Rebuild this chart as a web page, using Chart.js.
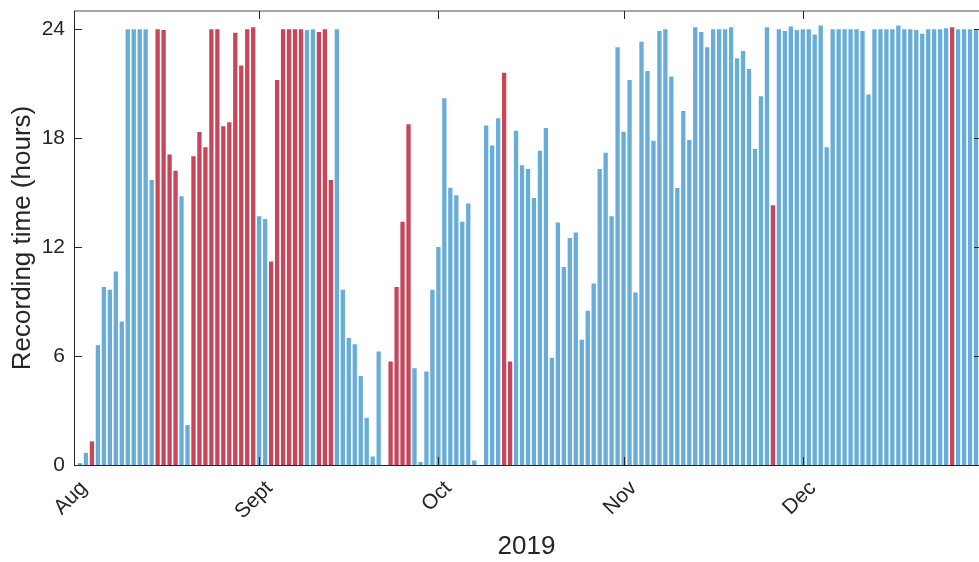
<!DOCTYPE html>
<html>
<head>
<meta charset="utf-8">
<script src="https://cdn.jsdelivr.net/npm/chart.js@4.4.0/dist/chart.umd.min.js"></script>
<style>
    html, body { margin: 0; padding: 0; background: #fff; overflow: hidden; }
    #wrap { width: 979px; height: 562px; }
</style>
</head>
<body>
<div id="wrap"><canvas id="chart"></canvas></div>
<script>
// day 0 = 1 Aug 2019
let monthLabels = ["Aug", "Sept", "Oct", "Nov", "Dec"];
let monthStarts = [0, 31, 61, 92, 122];
let yTicks = [0, 6, 12, 18, 24];

let augHours = [0, 0.1, 0.67, 1.3, 6.6, 9.8, 9.65, 10.66, 7.9, 24, 24, 24, 24, 15.7, 24, 23.95,
    17.1, 16.2, 14.8, 2.2, 17.0, 18.34, 17.5, 24, 24, 18.65, 18.87, 23.8, 22.0, 24, 24.1];
let sepHours = [13.7, 13.55, 11.2, 21.2, 24, 24, 24, 24, 23.95, 24, 23.85, 24, 15.7, 24, 9.65,
    7.0, 6.65, 4.9, 2.6, 0.47, 6.25, 0, 5.7, 9.8, 13.4, 18.76, 5.33, 0.17, 5.15, 9.65];
let octHours = [12.0, 20.2, 15.27, 14.85, 13.4, 14.4, 0.25, 0, 18.7, 17.6, 19.1, 21.6, 5.7, 18.4,
    16.5, 16.3, 14.7, 17.3, 18.56, 5.9, 13.35, 10.9, 12.5, 12.8, 6.9, 8.5, 10.0, 16.3, 17.2, 13.7, 23.0];
let novHours = [18.35, 21.2, 9.5, 23.3, 21.7, 17.86, 23.9, 24.0, 21.4, 15.25, 19.5, 17.9, 24.1, 23.85,
    23.0, 24.0, 24.0, 24.0, 24.1, 22.4, 22.8, 21.8, 17.4, 20.3, 24.1, 14.3, 24.0, 23.9, 24.15, 23.95];
let decHours = [24, 24, 23.7, 24.2, 17.5, 24, 24, 24, 24, 24, 23.9, 20.4, 24, 24, 24, 24, 24.2, 24,
    24, 23.95, 23.75, 24, 24, 24, 24.05, 24.1, 24, 24, 24, 24, 24];

// days drawn in red
let redDays = [3, 14, 15, 16, 17, 20, 21, 22, 23, 24, 25, 26, 27, 28, 29, 30, 33, 34, 35, 36, 37, 38,
    41, 42, 43, 53, 54, 55, 56, 72, 73, 117, 147];

let hours = [].concat(augHours, sepHours, octHours, novHours, decHours);
let points = hours.map((h, i) => ({ x: i, y: h }));
let colors = hours.map((h, i) => redDays.includes(i) ? "#c8465a" : "#68acd8");

let textColor = "#262626";
let fontFamily = "'Liberation Sans', Arial, Helvetica, sans-serif";

let axesBox = {
    id: "axesBox",
    afterDraw(chart) {
        let ctx = chart.ctx;
        let area = chart.chartArea;
        let xs = chart.scales.x;
        let ys = chart.scales.y;
        let rightX = xs.getPixelForValue(152);
        ctx.save();
        // top border
        ctx.strokeStyle = "#a6a6a6";
        ctx.lineWidth = 2;
        ctx.beginPath();
        ctx.moveTo(area.left, area.top);
        ctx.lineTo(area.right, area.top);
        ctx.stroke();
        // left and bottom axes
        ctx.strokeStyle = textColor;
        ctx.lineWidth = 1;
        ctx.beginPath();
        ctx.moveTo(area.left + 0.5, area.top);
        ctx.lineTo(area.left + 0.5, area.bottom + 0.5);
        ctx.lineTo(area.right, area.bottom + 0.5);
        ctx.stroke();
        // inward ticks
        ctx.beginPath();
        monthStarts.forEach(d => {
            let px = Math.round(xs.getPixelForValue(d)) + 0.5;
            ctx.moveTo(px, area.bottom);
            ctx.lineTo(px, area.bottom - 8);
            ctx.moveTo(px, area.top);
            ctx.lineTo(px, area.top + 8);
        });
        yTicks.forEach(v => {
            let py = Math.round(ys.getPixelForValue(v)) + 0.5;
            ctx.moveTo(area.left, py);
            ctx.lineTo(area.left + 8, py);
            ctx.moveTo(rightX, py);
            ctx.lineTo(rightX - 8, py);
        });
        ctx.stroke();
        ctx.restore();
    }
};

function noPadding(s) {
    s.paddingTop = 0;
    s.paddingBottom = 0;
    s.paddingLeft = 0;
    s.paddingRight = 0;
}

new Chart(document.getElementById("chart"), {
    type: "bar",
    data: {
        datasets: [{
            data: points,
            backgroundColor: colors,
            borderWidth: 0,
            barPercentage: 0.72,
            categoryPercentage: 1
        }]
    },
    options: {
        responsive: true,
        maintainAspectRatio: false,
        animation: false,
        events: [],
        layout: { padding: { top: 11, right: 0, left: 0, bottom: 0 } },
        plugins: { legend: { display: false }, tooltip: { enabled: false } },
        scales: {
            x: {
                type: "linear",
                offset: false,
                min: 0,
                max: 151.5,
                grid: { display: false, drawTicks: false, offset: false },
                border: { display: false },
                afterBuildTicks: s => { s.ticks = monthStarts.map(v => ({ value: v })); },
                afterFit: s => { s.height = 97; noPadding(s); },
                ticks: {
                    color: textColor,
                    font: { family: fontFamily, size: 21 },
                    minRotation: 45,
                    maxRotation: 45,
                    padding: 11,
                    labelOffset: 10,
                    callback: v => monthLabels[monthStarts.indexOf(v)]
                },
                title: {
                    display: true,
                    text: "2019",
                    color: textColor,
                    font: { family: fontFamily, size: 26 },
                    padding: { top: 0, bottom: 0 }
                }
            },
            y: {
                min: 0,
                max: 25,
                grid: { display: false, drawTicks: false },
                border: { display: false },
                afterBuildTicks: s => { s.ticks = yTicks.map(v => ({ value: v })); },
                afterFit: s => { s.width = 74; noPadding(s); },
                ticks: {
                    color: textColor,
                    font: { family: fontFamily, size: 21 },
                    padding: 9
                },
                title: {
                    display: true,
                    text: "Recording time (hours)",
                    color: textColor,
                    font: { family: fontFamily, size: 26 },
                    padding: { top: 7, bottom: 0 }
                }
            }
        }
    },
    plugins: [axesBox]
});
</script>
</body>
</html>
